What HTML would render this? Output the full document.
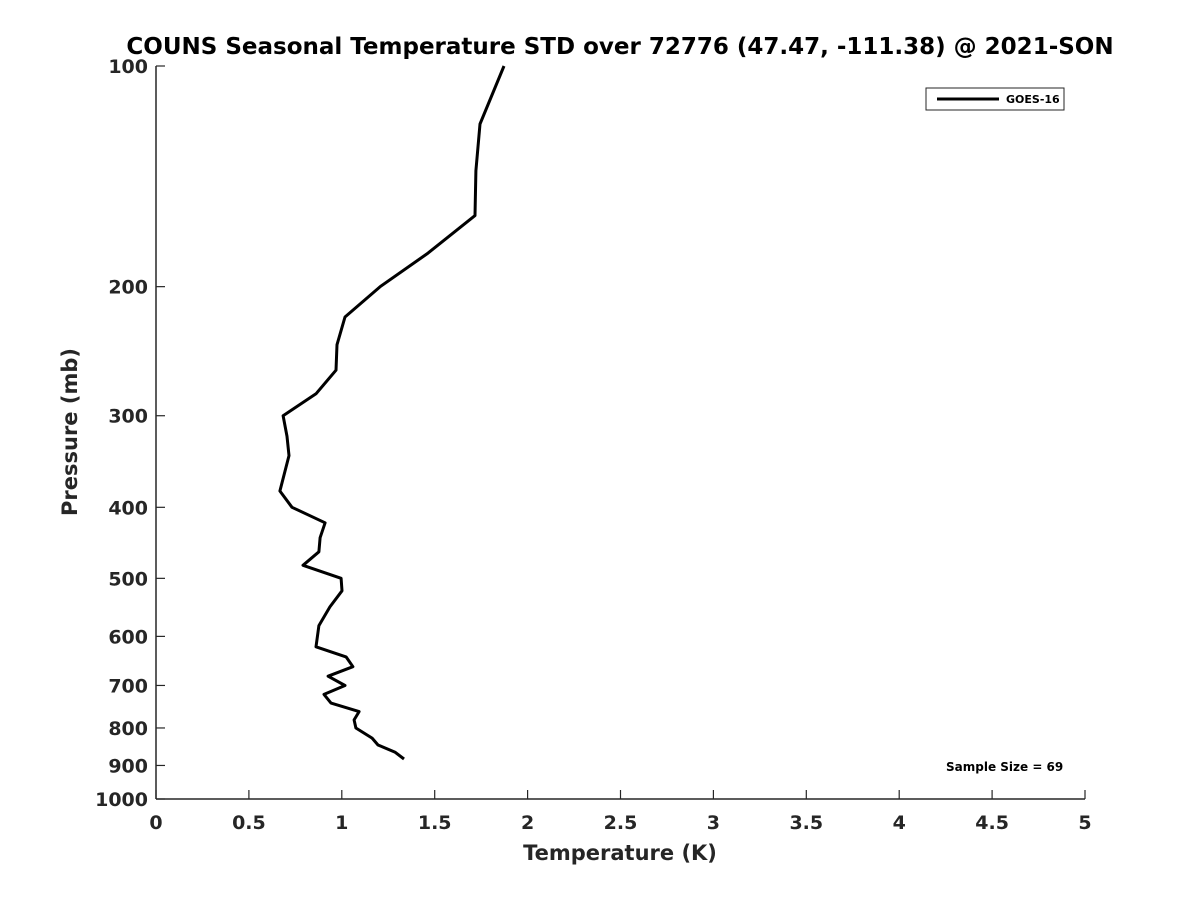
<!DOCTYPE html>
<html><head><meta charset="utf-8"><style>
body{margin:0;background:#fff;}
svg{display:block;font-family:"DejaVu Sans","Liberation Sans",sans-serif;font-weight:bold;}
</style></head><body>
<svg id="chart" width="1200" height="900" viewBox="0 0 1200 900">
<text x="620" y="54" text-anchor="middle" font-size="23" fill="#000">COUNS Seasonal Temperature STD over 72776 (47.47, -111.38) @ 2021-SON</text>
<g id="axes"></g>
<g id="series"></g>
<text x="620" y="860" text-anchor="middle" font-size="21" fill="#262626">Temperature (K)</text>
<text transform="translate(77,432) rotate(-90)" text-anchor="middle" font-size="21" fill="#262626">Pressure (mb)</text>
<g>
<rect x="926" y="88" width="138" height="22" fill="#fff" stroke="#262626" stroke-width="1"/>
<line x1="937" y1="99" x2="999" y2="99" stroke="#000" stroke-width="3"/>
<text x="1006" y="103" font-size="11" fill="#000">GOES-16</text>
</g>
<text x="946" y="771" font-size="12" fill="#000">Sample Size = 69</text>
</svg>
<script>
const xTicks=[0,0.5,1,1.5,2,2.5,3,3.5,4,4.5,5];
const xTickLabels=["0","0.5","1","1.5","2","2.5","3","3.5","4","4.5","5"];
const yTicks=[100,200,300,400,500,600,700,800,900,1000];
const yTickLabels=["100","200","300","400","500","600","700","800","900","1000"];
const temps=[1.873,1.744,1.722,1.717,1.464,1.206,1.017,0.974,0.969,0.861,0.684,0.705,0.716,0.667,0.732,0.910,0.883,0.877,0.791,0.996,1.001,0.936,0.877,0.861,1.023,1.060,0.926,1.017,0.904,0.942,1.093,1.066,1.076,1.163,1.195,1.286,1.335];
const pressures=[100,120,139,160,180,200,220,240,260,280,300,320,340,380,400,420,440,460,480,500,520,547,580,620,640,660,680,700,720,740,760,780,800,826,844,863,882];
const X0=156,X1=1085,Y0=66,Y1=799;
const xs=v=>X0+(v-0)/(5-0)*(X1-X0);
const ys=p=>Y0+(Math.log10(p)-2)/(3-2)*(Y1-Y0);
const NS="http://www.w3.org/2000/svg";
const axes=document.getElementById('axes');
function mk(tag,attrs,parent){const e=document.createElementNS(NS,tag);for(const k in attrs)e.setAttribute(k,attrs[k]);parent.appendChild(e);return e;}
let a=mk('line',{x1:X0,y1:Y1,x2:X1,y2:Y1,stroke:'#262626','stroke-width':1.5},axes);


a=mk('line',{x1:X0,y1:Y0,x2:X0,y2:Y1,stroke:'#262626','stroke-width':1.5},axes);


xTicks.forEach((v,i)=>{
 const x=xs(v);
 const t=mk('line',{x1:x,y1:Y1,x2:x,y2:Y1-9,stroke:'#262626','stroke-width':1.2},axes);
 
 
 const l=mk('text',{x:x,y:Y1+30,'text-anchor':'middle','font-size':19,fill:'#262626'},axes);
 l.textContent=xTickLabels[i];
 
 
});
yTicks.forEach((p,i)=>{
 const y=ys(p);
 const t=mk('line',{x1:X0,y1:y,x2:X0+9,y2:y,stroke:'#262626','stroke-width':1.2},axes);
 
 
 const l=mk('text',{x:X0-8,y:y+7,'text-anchor':'end','font-size':19,fill:'#262626'},axes);
 l.textContent=yTickLabels[i];
 
 
});
const pts=temps.map((t,i)=>xs(t).toFixed(1)+','+ys(pressures[i]).toFixed(1)).join(' ');
const line=mk('polyline',{points:pts,fill:'none',stroke:'#000','stroke-width':3,'stroke-linejoin':'round'},document.getElementById('series'));


</script>
</body></html>
